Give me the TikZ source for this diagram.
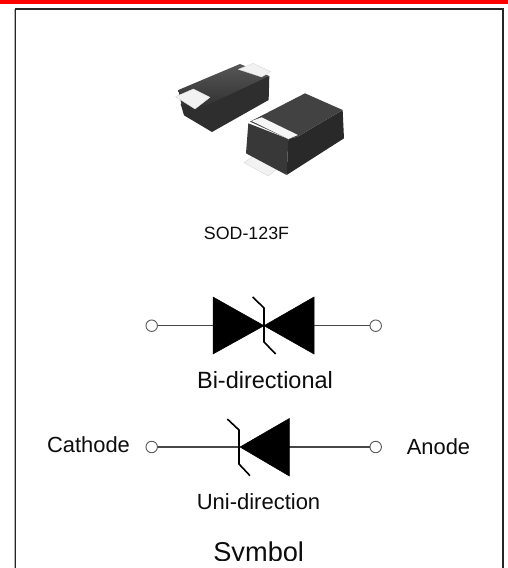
\documentclass[tikz,border=0pt]{standalone}
\usepackage{fontspec}
\setmainfont{Liberation Sans}
\tikzset{
  term/.style={circle,draw=black!65,fill=white,line width=0.9pt,minimum size=11.5pt,inner sep=0pt},
  wire/.style={draw=black!72,line width=1.5pt},
  tri/.style={fill=black,draw=black,line width=0.5pt,line join=miter},
  zbar/.style={draw=black,line width=1.6pt,line join=miter},
  lab/.style={inner sep=0pt,text=black!95,anchor=base},
  chipdark/.style={fill=black!82},
  chiptop/.style={fill=black!74},
  pad/.style={fill=black!5,draw=black!15,line width=0.4pt,line join=round},
}
\begin{document}
\begin{tikzpicture}[x=1pt,y=-1pt]
\useasboundingbox (0,0) rectangle (508,568);
\fill[white] (0,0) rectangle (508,568);
% top bar
\fill[red] (0,0) rectangle (508,3.6);

% package photo
\begin{scope}[shift={(150,40)},x=0.3333pt,y=-0.3333pt]
  % left chip
  \fill[chipdark] (92,192) -- (358,108) -- (356,180) -- (186,276) -- (102,226) -- cycle;
  \shade[top color=black!66,bottom color=black!80] (85,150) -- (270,72) -- (358,108) -- (170,196) -- (95,196) -- cycle;
  \fill[pad] (265,88) -- (310,70) -- (362,95) -- (335,111) -- cycle;
  \fill[pad] (77,170) -- (130,147) -- (180,172) -- (135,207) -- cycle;
  % right chip
  \fill[pad] (282,368) -- (315,345) -- (382,386) -- (355,408) -- cycle;
  \fill[black!78] (295,250) -- (415,297) -- (410,405) -- (288,340) -- cycle;
  \fill[black!84] (443,290) -- (578,210) -- (582,295) -- (410,405) -- (415,297) -- cycle;
  \fill[chiptop] (300,245) -- (465,160) -- (578,210) -- (443,290) -- (415,297) -- cycle;
  \fill[black!4] (305,243) -- (335,232) -- (444,285) -- (415,297) -- cycle;
\end{scope}

\node[lab,font=\fontsize{17.8pt}{20pt}\selectfont] (pkg) at (246.5,239.5) {SOD-123F};

% bidirectional symbol
\node[term] (b1) at (151.7,325.7) {};
\node[term] (b2) at (375.7,325.7) {};
\coordinate (bl) at (213,325.7);
\coordinate (br) at (314,325.7);
\draw[wire] (b1) -- (bl);
\draw[wire] (br) -- (b2);
\fill[tri] (213,297) -- (264,325.7) -- (213,354) -- cycle;
\fill[tri] (314,297) -- (264,325.7) -- (314,354) -- cycle;
\draw[zbar] (252.7,297) -- (264,308) -- (264,342) -- (275.7,354);
\node[lab,font=\fontsize{23.5pt}{25pt}\selectfont] (bt) at (265,388) {Bi-directional};

% unidirectional symbol
\node[term] (u1) at (151.7,447) {};
\node[term] (u2) at (375.7,447) {};
\coordinate (ul) at (239,447);
\coordinate (ur) at (289,447);
\draw[wire] (u1) -- (ul);
\draw[wire] (ur) -- (u2);
\fill[tri] (289.3,418.5) -- (240,447) -- (289.3,476) -- cycle;
\draw[zbar] (227.3,419) -- (239,430) -- (239,464) -- (250,475.7);
\node[lab,font=\fontsize{21.9pt}{24pt}\selectfont] (cat) at (88.5,452.7) {Cathode};
\node[lab,font=\fontsize{21.9pt}{24pt}\selectfont] (ano) at (438.5,454.7) {Anode};
\node[lab,font=\fontsize{22pt}{24pt}\selectfont] (ut) at (258.5,509) {Uni-direction};
\node[lab,font=\fontsize{27.2pt}{30pt}\selectfont] (sym) at (258.7,561) {Symbol};
\fill[white] (16,560.5) rectangle (502,568);

% frame (open at the bottom)
\draw[black!30,line width=1pt] (14,568) -- (14,9);
\draw[black!85,line width=1.4pt] (15.2,568) -- (15.2,9) -- (502.8,9) -- (502.8,568);
\end{tikzpicture}
\end{document}
